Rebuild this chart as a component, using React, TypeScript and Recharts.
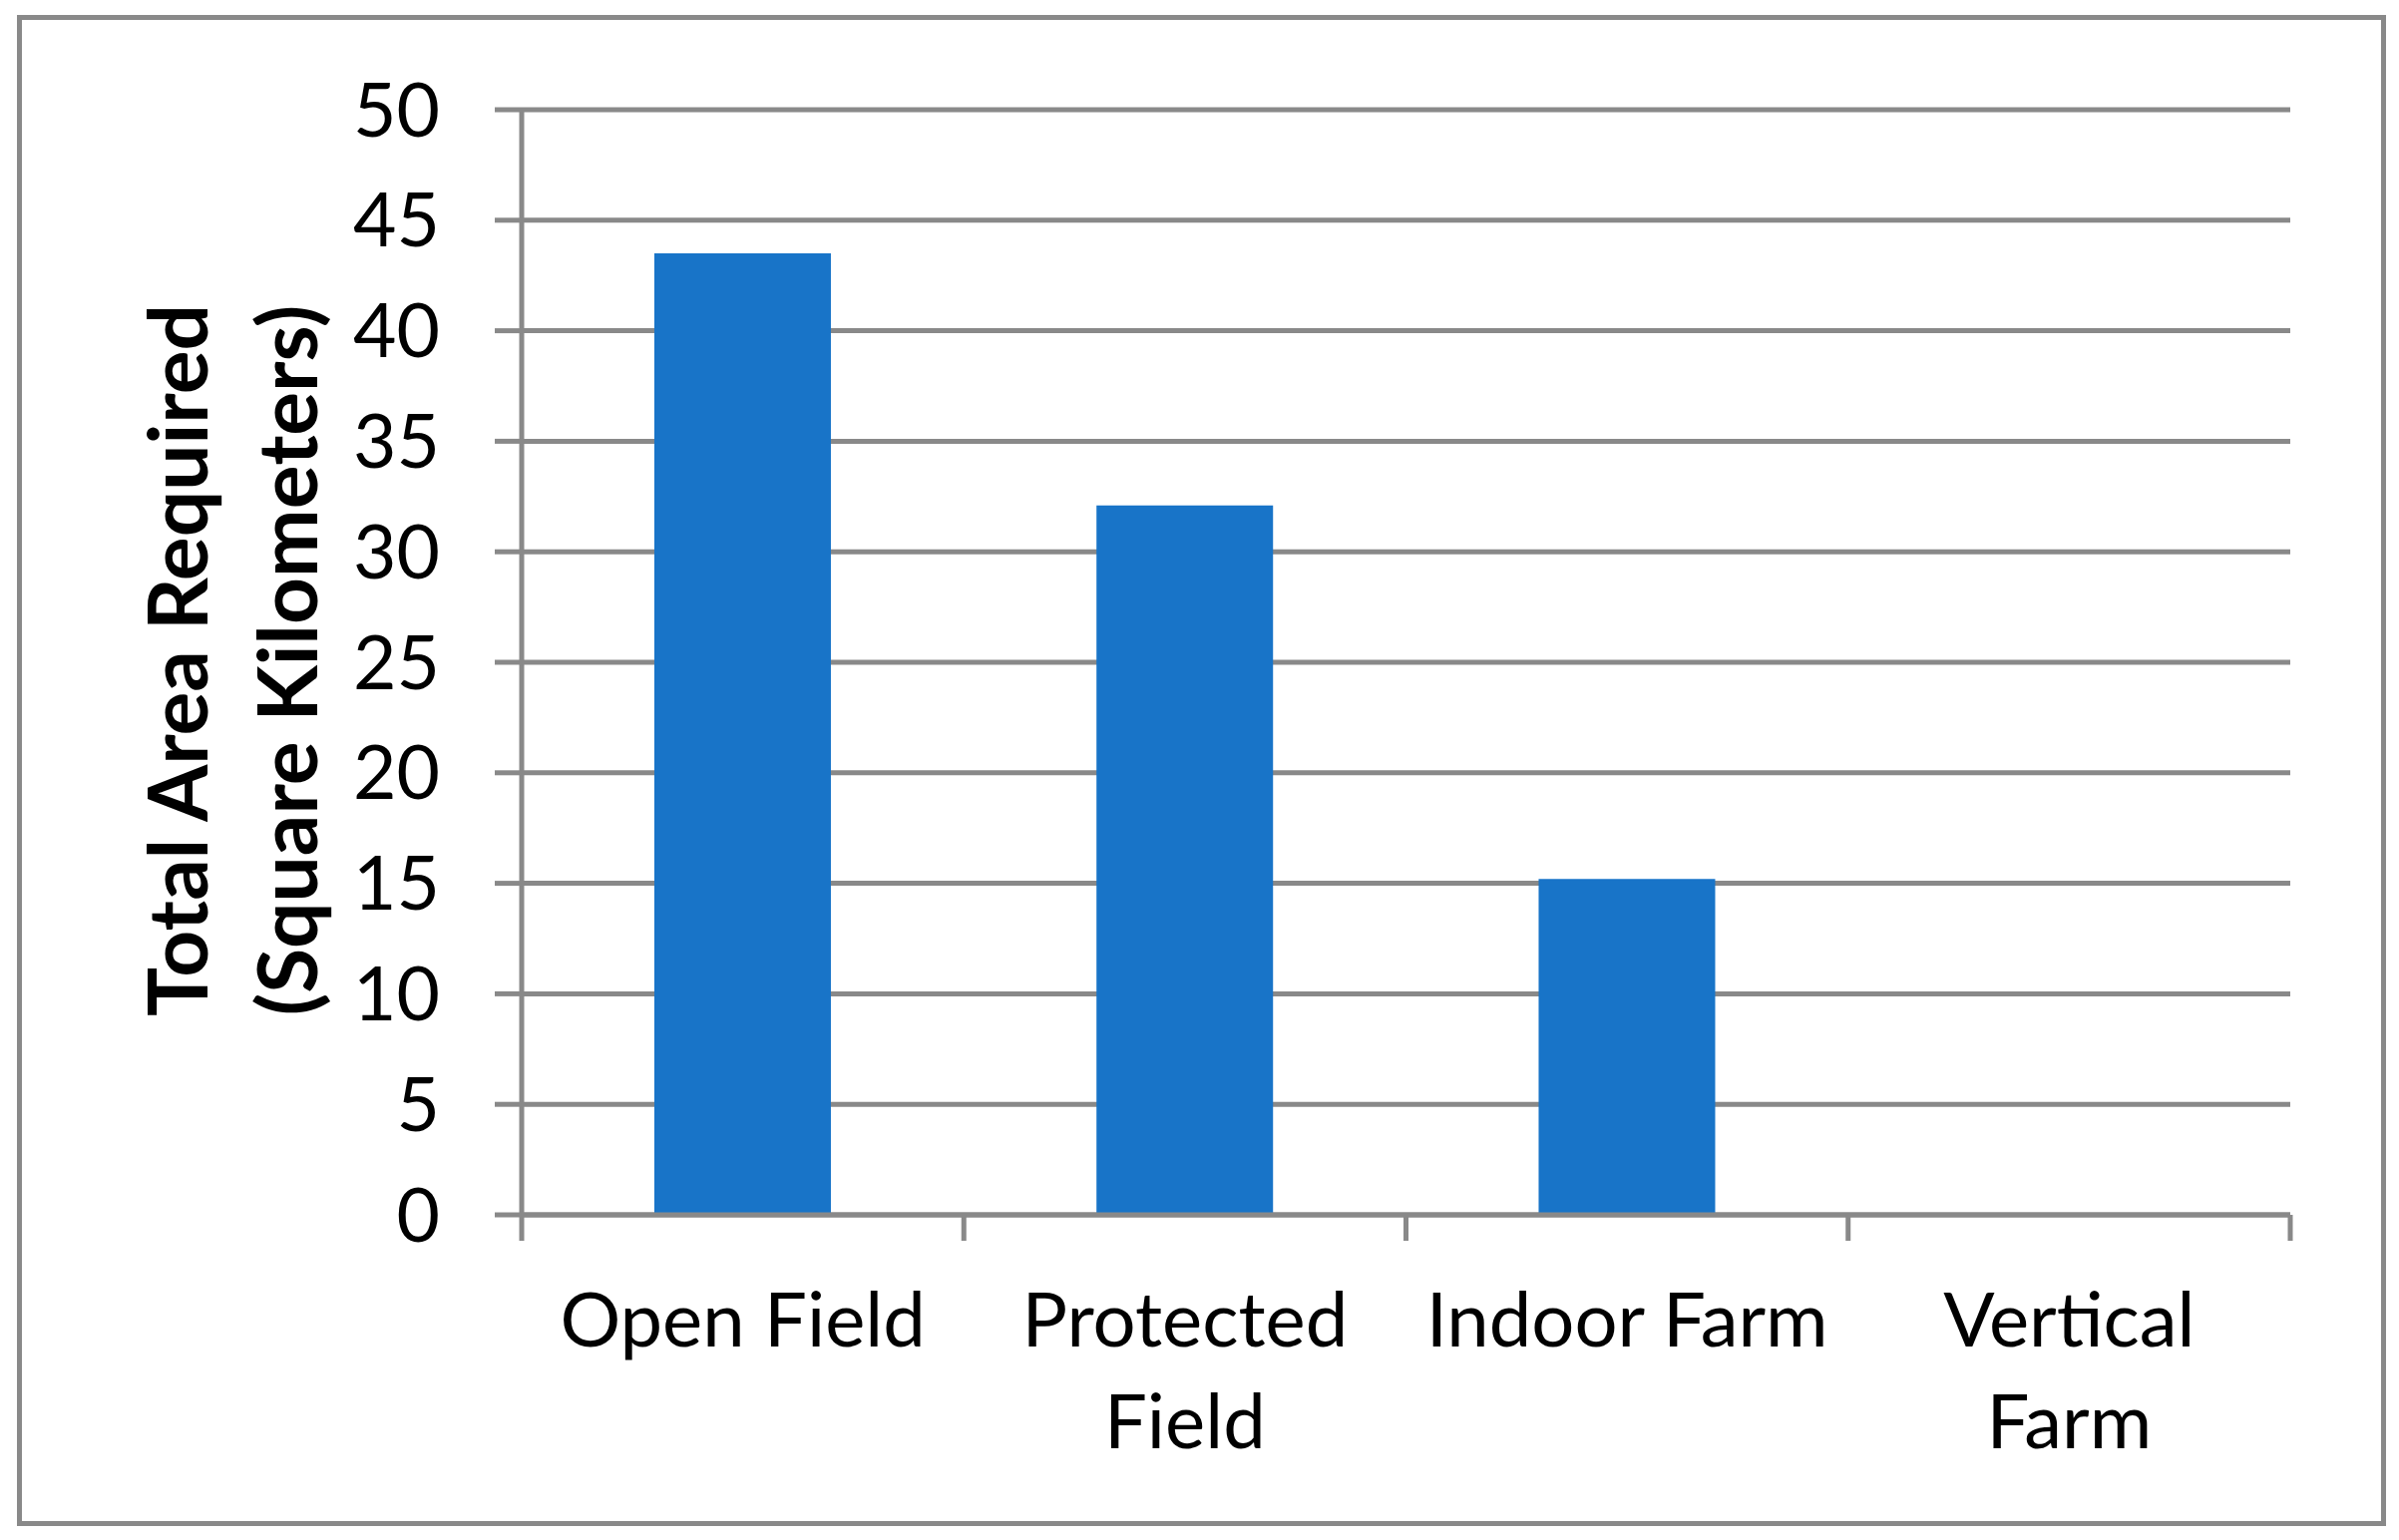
import React from 'react';
import { BarChart, Bar, XAxis, YAxis, CartesianGrid } from 'recharts';

const categories = ['Open Field', 'Protected\nField', 'Indoor Farm', 'Vertical\nFarm'];
const areaValues = [43.5, 32.1, 15.2, 0];
const yTicks = [0, 5, 10, 15, 20, 25, 30, 35, 40, 45, 50];
const axisTitleLines = ['Total Area Required', '(Square Kilometers)'];

const data = categories.map((name, i) => ({ name, area: areaValues[i] }));

const GRAY = '#898989';
const BAR = '#1874C8';
const FONT = 'Lato, "Open Sans", sans-serif';

const CategoryTick = (props: any) => {
  const { x, y, payload, index, width, visibleTicksCount } = props;
  const count = visibleTicksCount || categories.length;
  const band = (typeof width === 'number' && width > 10 ? width : 1773) / count;
  const half = band / 2;
  const lines = String(payload.value).split('\n');
  return (
    <g>
      <line x1={x - half} x2={x - half} y1={y} y2={y + 26} stroke={GRAY} strokeWidth={5} />
      {index === count - 1 && (
        <line x1={x + half} x2={x + half} y1={y} y2={y + 26} stroke={GRAY} strokeWidth={5} />
      )}
      <text x={x} y={y} textAnchor="middle" fontFamily={FONT} fontSize={76} fill="#000">
        {lines.map((l, i) => (
          <tspan key={i} x={x} y={y + 132 + i * 102}>
            {l}
          </tspan>
        ))}
      </text>
    </g>
  );
};

const AxisTitle = (props: any) => {
  const vb = props.viewBox || { x: 523, y: 110, height: 1108 };
  const cy = vb.y + vb.height / 2 - 2;
  const bx = 208;
  return (
    <text
      transform={`rotate(-90, ${bx}, ${cy})`}
      x={bx}
      y={cy}
      textAnchor="middle"
      fontFamily={FONT}
      fontWeight="bold"
      fontSize={82}
      fill="#000"
    >
      {axisTitleLines.map((l, i) => (
        <tspan key={i} x={bx} y={cy + i * 110}>
          {l}
        </tspan>
      ))}
    </text>
  );
};

export default function App() {
  return (
    <div style={{ position: 'absolute', left: 0, top: 0, width: 2405, height: 1544, background: '#fff' }}>
      <div
        style={{
          position: 'absolute',
          left: 17,
          top: 15,
          width: 2375,
          height: 1515,
          boxSizing: 'border-box',
          border: `5px solid ${GRAY}`,
        }}
      />
      <div style={{ position: 'absolute', left: 0, top: 0 }}>
        <BarChart
          width={2405}
          height={1544}
          data={data}
          margin={{ top: 110, right: 109, bottom: 325, left: 522 }}
          barCategoryGap="30%"
        >
          <CartesianGrid vertical={false} stroke={GRAY} strokeWidth={5} />
          <XAxis
            dataKey="name"
            height={1}
            interval={0}
            tickLine={false}
            axisLine={{ stroke: GRAY, strokeWidth: 5 }}
            tickSize={0}
            tickMargin={0}
            tick={<CategoryTick />}
          />
          <YAxis
            width={1}
            domain={[0, 50]}
            ticks={yTicks}
            interval={0}
            tickSize={27}
            tickMargin={55}
            tickLine={{ stroke: GRAY, strokeWidth: 5 }}
            axisLine={{ stroke: GRAY, strokeWidth: 5 }}
            tick={{ fill: '#000', fontSize: 75, fontFamily: FONT }}
            label={{ content: (p: any) => <AxisTitle {...p} /> }}
          />
          <Bar dataKey="area" fill={BAR} isAnimationActive={false} />
        </BarChart>
      </div>
    </div>
  );
}
